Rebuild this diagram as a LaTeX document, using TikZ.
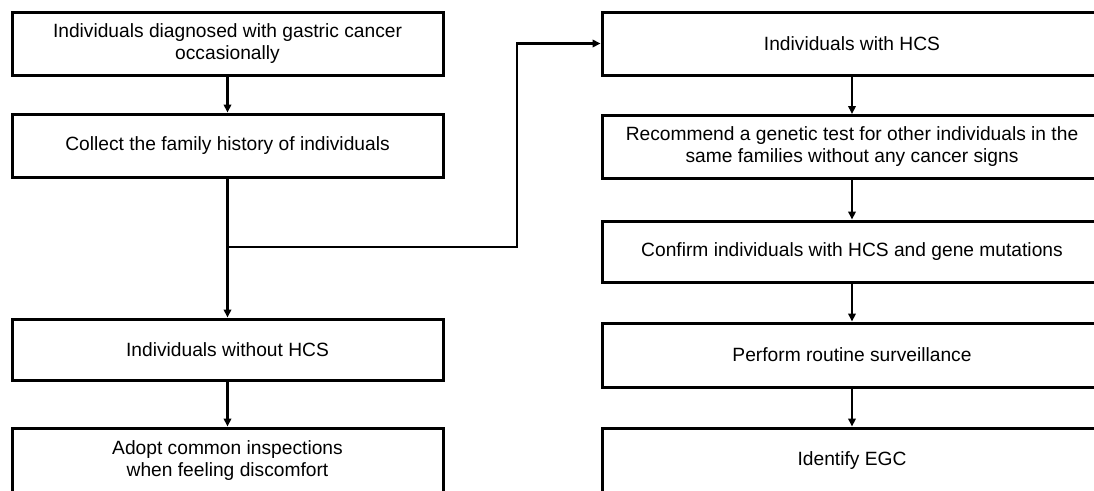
\documentclass[tikz,border=0pt]{standalone}
\usepackage{fontspec}
\setmainfont{Liberation Sans}
\usetikzlibrary{arrows.meta,positioning,calc}
\tikzset{
  stage/.style={rectangle, draw=black, line width=3pt, fill=white, align=center,
    inner sep=4pt, minimum width=431pt, minimum height=63pt,
    font=\fontsize{19.2}{22}\selectfont},
  wide/.style={stage, minimum width=500pt},
  flow/.style={-{Triangle[length=8pt, width=7.5pt]}, line width=2.2pt, draw=black},
}
\begin{document}
\begin{tikzpicture}[x=1pt, y=-1pt]
  \useasboundingbox (0,0) rectangle (1094,490);
  \clip (0,0) rectangle (1094,490);
  % left column
  \node[stage] (diag) at (227.5,43.5) {Individuals diagnosed with gastric cancer\\occasionally};
  \node[stage] (hist) at (227.5,145.5) {Collect the family history of individuals};
  \node[stage, minimum height=61pt] (nohcs) at (227.5,349.5) {Individuals without HCS};
  \node[stage, minimum height=65pt] (insp) at (227.5,460.5) {Adopt common inspections\\when feeling discomfort};
  % right column
  \node[wide] (hcs) at (852,43.5) {Individuals with HCS};
  \node[wide] (gene) at (852,147) {Recommend a genetic test for other individuals in the\\same families without any cancer signs};
  \node[wide, minimum height=61pt] (conf) at (852,251.5) {Confirm individuals with HCS and gene mutations};
  \node[wide, minimum height=64pt] (surv) at (852,355) {Perform routine surveillance};
  \node[wide, minimum height=65pt] (egc) at (852,460.5) {Identify EGC};
  % connectors
  \coordinate (split) at (227.5,247);
  \coordinate (turn) at (517,247);
  \draw[flow] (diag) -- (hist);
  \draw[flow] (hist) -- (nohcs);
  \draw[flow] (nohcs) -- (insp);
  \draw[flow] (split) -- (turn) |- (hcs);
  \draw[flow] (hcs) -- (gene);
  \draw[flow] (gene) -- (conf);
  \draw[flow] (conf) -- (surv);
  \draw[flow] (surv) -- (egc);
\end{tikzpicture}
\end{document}
